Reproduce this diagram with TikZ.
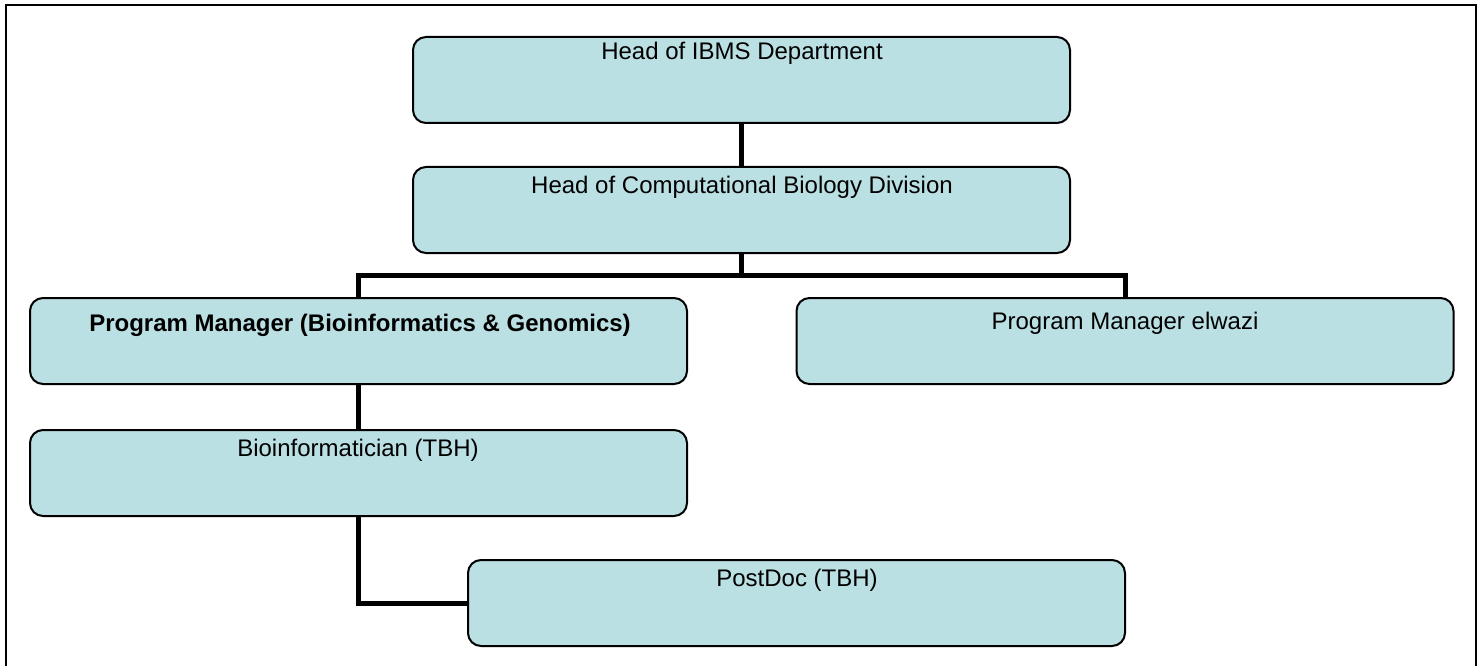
\documentclass[tikz,border=0pt]{standalone}
\usepackage{fontspec}
\setmainfont{Liberation Sans}
\definecolor{boxfill}{RGB}{187,224,227}
\begin{document}
\begin{tikzpicture}[x=1pt,y=-1pt,
  orgbox/.style={draw=black,line width=2pt,fill=boxfill,rounded corners=13pt,
    minimum width=657pt,minimum height=86pt,inner sep=0pt},
  lbl/.style={font=\fontsize{24}{28}\selectfont,inner sep=0pt,anchor=center},
  conn/.style={line width=5pt,draw=black}]
\useasboundingbox (0,0) rectangle (1481,666);
\draw[line width=2pt] (6,672) -- (6,5) -- (1476,5) -- (1476,672);
% boxes
\node[orgbox] (ibms) at (741.5,80) {};
\node[orgbox] (cb) at (741.5,210) {};
\node[orgbox] (pmb) at (358.5,341) {};
\node[orgbox] (pme) at (1125,341) {};
\node[orgbox] (bio) at (358.5,473) {};
\node[orgbox] (pd) at (796.5,603) {};
% labels
\node[lbl] (tibms) at (742,53) {Head of IBMS Department};
\node[lbl] (tcb) at (742,187) {Head of Computational Biology Division};
\node[lbl,font=\fontsize{24}{28}\selectfont\bfseries] (tpmb) at (360,325) {Program Manager (Bioinformatics \& Genomics)};
\node[lbl] (tpme) at (1125,323) {Program Manager elwazi};
\node[lbl] (tbio) at (358,450) {Bioinformatician (TBH)};
\node[lbl] (tpd) at (797,580) {PostDoc (TBH)};
% connectors
\coordinate (bus) at (741.5,275);
\draw[conn] (ibms.south) -- (cb.north);
\draw[conn] (cb.south) -- (bus);
\draw[conn] (pmb.north) |- (bus) -| (pme.north);
\draw[conn] (pmb.south) -- (bio.north);
\draw[conn] (bio.south) |- (pd.west);
\end{tikzpicture}
\end{document}
